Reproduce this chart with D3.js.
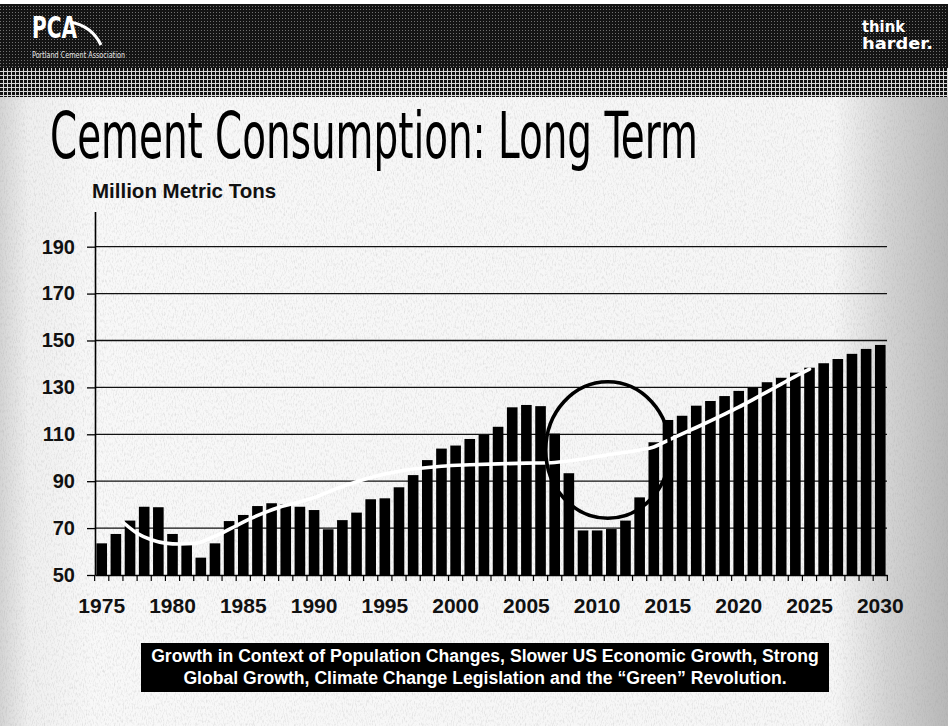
<!DOCTYPE html>
<html>
<head>
<meta charset="utf-8">
<script src="https://cdn.jsdelivr.net/npm/d3@7"></script>
<style>
  html, body { margin: 0; padding: 0; background: #ffffff; }
  svg { display: block; }
</style>
</head>
<body>
<div id="chart"></div>
<script>
// ---------------- DATA ----------------
const years = [1975,1976,1977,1978,1979,1980,1981,1982,1983,1984,1985,1986,1987,1988,1989,
  1990,1991,1992,1993,1994,1995,1996,1997,1998,1999,2000,2001,2002,2003,2004,2005,2006,2007,
  2008,2009,2010,2011,2012,2013,2014,2015,2016,2017,2018,2019,2020,2021,2022,2023,2024,2025,
  2026,2027,2028,2029,2030];
const consumption = [63.5,67.5,73.2,79.1,78.9,67.5,63.5,57.4,63.5,73.0,75.6,79.4,80.6,80.1,79.1,
  77.7,69.5,73.4,76.6,82.3,82.7,87.4,92.6,99.0,103.9,105.2,108.0,109.7,113.2,121.5,122.5,122.0,110.3,
  93.4,69.0,69.0,69.6,73.2,83.1,106.6,116.1,117.9,122.2,124.2,126.3,128.5,130.0,132.2,134.1,136.3,138.4,
  140.3,142.1,144.3,146.4,148.1];
const trendYears = [1976.5,1977.5,1978.5,1979.5,1980.5,1981.5,1982.5,1983.5,1984.5,1985.5,1986.5,1987.5,
  1988.5,1990,1991.5,1993,1994.5,1996,1997.5,1999,2001,2003,2005,2007,2009,2011,2013,2014,2015,2016,
  2017,2018,2019,2020,2021,2022,2023,2024,2025];
const trendValues = [72.5,67.8,65.0,63.6,63.2,63.4,65.2,67.9,71.0,74.0,76.6,78.8,
  80.4,83.0,86.6,89.8,92.3,94.2,95.5,96.4,97.0,97.4,97.7,98.0,99.5,101.5,103.3,104.6,107.4,110.2,
  112.9,115.7,118.6,121.6,124.8,128.1,131.4,134.7,137.8];
const yTickValues = [50,70,90,110,130,150,170,190];
const xTickYears = [1975,1980,1985,1990,1995,2000,2005,2010,2015,2020,2025,2030];
const highlightCenter = [2010.75, 103.3];   // [year, value]
const highlightRadius = [4.38, 29.1];       // [years, value units]
const titleText = "Cement Consumption: Long Term";
const unitText = "Million Metric Tons";
const noteLines = [
  "Growth in Context of Population Changes, Slower US Economic Growth, Strong",
  "Global Growth, Climate Change Legislation and the \u201CGreen\u201D Revolution."
];

// ---------------- LAYOUT ----------------
const W = 948, H = 726;
const plot = { left: 95, right: 887, top: 211.5, bottom: 575 };
const sansBold = "'Liberation Sans', Arial, 'Helvetica', sans-serif";
const narrow = "'Liberation Sans Narrow', 'Arial Narrow', 'DejaVu Sans Condensed', sans-serif";

const svg = d3.select("#chart").append("svg")
  .attr("width", W).attr("height", H).attr("viewBox", `0 0 ${W} ${H}`);

const defs = svg.append("defs");
const grad = defs.append("linearGradient").attr("id", "bodyGrad")
  .attr("x1", "0").attr("x2", "1").attr("y1", "0").attr("y2", "0");
[[0, "#d4d4d4"], [0.03, "#efefef"], [0.1, "#f8f8f8"], [0.88, "#f6f6f6"], [0.935, "#d4d4d4"], [1, "#b8b8b8"]]
  .forEach(([o, c]) => grad.append("stop").attr("offset", o).attr("stop-color", c));

const dots = defs.append("pattern").attr("id", "dotBand")
  .attr("width", 4).attr("height", 4).attr("patternUnits", "userSpaceOnUse");
dots.append("rect").attr("width", 4).attr("height", 4).attr("fill", "#d8d8d8");
dots.append("rect").attr("width", 3).attr("height", 3).attr("fill", "#111");

const half = defs.append("pattern").attr("id", "headTex")
  .attr("width", 3).attr("height", 3).attr("patternUnits", "userSpaceOnUse");
half.append("rect").attr("width", 3).attr("height", 3).attr("fill", "#141414");
half.append("rect").attr("width", 1).attr("height", 1).attr("fill", "#707070");

const f = defs.append("filter").attr("id", "speckle")
  .attr("x", 0).attr("y", 0).attr("width", "100%").attr("height", "100%");
f.append("feTurbulence").attr("type", "fractalNoise").attr("baseFrequency", "0.9 0.3")
  .attr("numOctaves", 2).attr("seed", 7);
f.append("feColorMatrix").attr("type", "matrix")
  .attr("values", "0 0 0 0 0.3  0 0 0 0 0.3  0 0 0 0 0.3  2.6 0 0 0 -1.2");

// background
svg.append("rect").attr("width", W).attr("height", H).attr("fill", "#ffffff");
svg.append("rect").attr("x", 0).attr("y", 97).attr("width", W).attr("height", H - 97)
  .attr("fill", "url(#bodyGrad)");
svg.append("rect").attr("x", 0).attr("y", 97).attr("width", W).attr("height", H - 97)
  .attr("fill", "#000").attr("filter", "url(#speckle)").attr("opacity", 0.22);

// header
svg.append("rect").attr("x", 0).attr("y", 4).attr("width", W).attr("height", 64)
  .attr("fill", "url(#headTex)");
svg.append("rect").attr("x", 0).attr("y", 68).attr("width", W).attr("height", 29)
  .attr("fill", "url(#dotBand)");
svg.append("text").attr("x", 32).attr("y", 38).text("PCA")
  .attr("font-family", narrow).attr("font-weight", "bold").attr("font-size", 31)
  .attr("textLength", 45).attr("lengthAdjust", "spacingAndGlyphs").attr("fill", "#fff");
svg.append("path").attr("d", "M70 22 Q 92 26 101 45")
  .attr("fill", "none").attr("stroke", "#fff").attr("stroke-width", 3);
svg.append("text").attr("x", 32).attr("y", 58).text("Portland Cement Association")
  .attr("font-family", narrow).attr("font-size", 9.5)
  .attr("textLength", 93).attr("lengthAdjust", "spacingAndGlyphs").attr("fill", "#e8e8e8");
svg.append("text").attr("x", 862).attr("y", 31.5).text("think")
  .attr("font-family", narrow).attr("font-weight", "bold").attr("font-size", 15.5)
  .attr("textLength", 43).attr("lengthAdjust", "spacingAndGlyphs").attr("fill", "#fff");
svg.append("text").attr("x", 862).attr("y", 49).text("harder.")
  .attr("font-family", narrow).attr("font-weight", "bold").attr("font-size", 15.5)
  .attr("textLength", 71).attr("lengthAdjust", "spacingAndGlyphs").attr("fill", "#fff");

// title + unit (title compressed horizontally to match the condensed face)
const title = svg.append("text").text(titleText)
  .attr("font-family", narrow).attr("font-size", 64).attr("fill", "#000")
  .attr("transform", "translate(50,158)");
const natural = title.node().getComputedTextLength();
title.attr("transform", `translate(50,158) scale(${648 / natural},1)`);

svg.append("text").attr("x", 92).attr("y", 198).text(unitText)
  .attr("font-family", sansBold).attr("font-weight", "bold").attr("font-size", 20.5)
  .attr("fill", "#111");

// ---------------- SCALES ----------------
const x = d3.scaleBand().domain(years).range([plot.left, plot.right])
  .paddingInner(0.25).paddingOuter(0.1);
const bw = x.bandwidth();
const xc = d3.scaleLinear().domain([years[0], years[years.length - 1]])
  .range([x(years[0]) + bw / 2, x(years[years.length - 1]) + bw / 2]);
const y = d3.scaleLinear().domain([50, 205]).range([plot.bottom, plot.top]);

const g = svg.append("g");

// gridlines
g.selectAll("line.grid").data(yTickValues.filter(v => v > 50)).join("line")
  .attr("class", "grid")
  .attr("x1", plot.left).attr("x2", plot.right)
  .attr("y1", d => y(d)).attr("y2", d => y(d))
  .attr("stroke", "#111").attr("stroke-width", 1.3);

// bars
g.selectAll("rect.bar").data(years).join("rect")
  .attr("class", "bar")
  .attr("x", d => x(d)).attr("width", bw)
  .attr("y", (d, i) => y(consumption[i]))
  .attr("height", (d, i) => y(50) - y(consumption[i]))
  .attr("fill", "#000");

// trend line
const trend = trendYears.map((yr, i) => [yr, trendValues[i]]);
g.append("path").datum(trend)
  .attr("d", d3.line().x(d => xc(d[0])).y(d => y(d[1])).curve(d3.curveMonotoneX))
  .attr("fill", "none").attr("stroke", "#fff").attr("stroke-width", 3.6)
  .attr("stroke-linecap", "round");

// highlight ellipse
g.append("ellipse")
  .attr("cx", xc(highlightCenter[0])).attr("cy", y(highlightCenter[1]))
  .attr("rx", xc(highlightCenter[0] + highlightRadius[0]) - xc(highlightCenter[0]))
  .attr("ry", y(highlightCenter[1] - highlightRadius[1]) - y(highlightCenter[1]))
  .attr("fill", "none").attr("stroke", "#000").attr("stroke-width", 3.6);

// y axis
const yAxis = g.append("g").attr("transform", `translate(${plot.left},0)`)
  .call(d3.axisLeft(y).tickValues(yTickValues).tickSize(8).tickSizeOuter(0)
    .tickPadding(12).tickFormat(d3.format("d")));
yAxis.select(".domain").attr("stroke", "#000").attr("stroke-width", 1.6);
yAxis.selectAll(".tick line").attr("stroke", "#000").attr("stroke-width", 1.3);
yAxis.selectAll("text").attr("font-family", sansBold).attr("font-weight", "bold")
  .attr("font-size", 20).attr("fill", "#111");

// x axis
const xAxis = g.append("g").attr("transform", `translate(0,${plot.bottom})`)
  .call(d3.axisBottom(x).tickValues(xTickYears).tickSize(0).tickSizeOuter(0).tickPadding(23));
xAxis.select(".domain").attr("stroke", "#000").attr("stroke-width", 1.6);
xAxis.selectAll("text").attr("font-family", sansBold).attr("font-weight", "bold")
  .attr("font-size", 21).attr("fill", "#111");
const gap = (x.step() - bw) / 2;
const boundaries = years.map(d => x(d) - gap).concat([x(years[years.length - 1]) + bw + gap]);
xAxis.selectAll("line.bt").data(boundaries).join("line").attr("class", "bt")
  .attr("x1", d => d).attr("x2", d => d).attr("y1", 0).attr("y2", 6)
  .attr("stroke", "#000").attr("stroke-width", 1.2);

// note box
svg.append("rect").attr("x", 141).attr("y", 643).attr("width", 688).attr("height", 49)
  .attr("fill", "#000");
svg.selectAll("text.note").data(noteLines).join("text").attr("class", "note")
  .attr("x", 485).attr("y", (d, i) => 662 + i * 22).attr("text-anchor", "middle")
  .attr("font-family", sansBold).attr("font-weight", "bold").attr("font-size", 17.6)
  .attr("fill", "#fff").text(d => d);
</script>
</body>
</html>
